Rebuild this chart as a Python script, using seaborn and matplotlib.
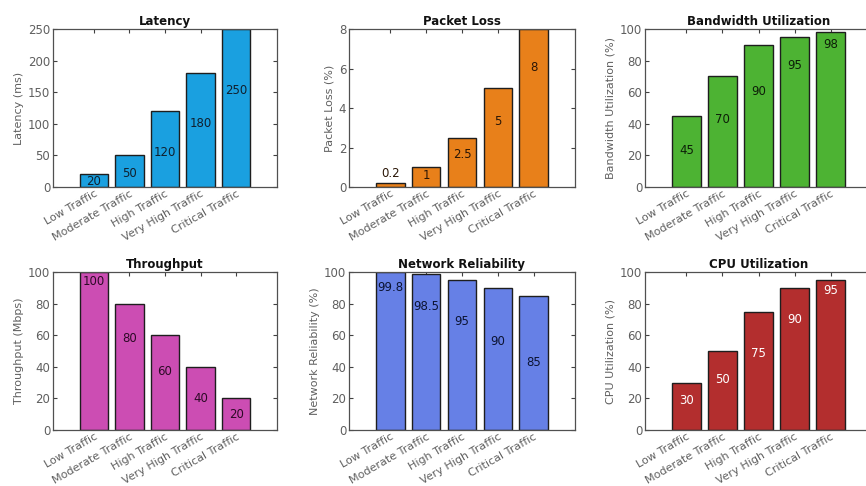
import matplotlib
matplotlib.use("Agg")
import matplotlib.pyplot as plt
import seaborn as sns
import pandas as pd

sns.set_theme(style="white")
plt.rcParams["font.family"] = ["DejaVu Sans"]

categories = ["Low Traffic", "Moderate Traffic", "High Traffic",
              "Very High Traffic", "Critical Traffic"]

latency = [20, 50, 120, 180, 250]
packet_loss = [0.2, 1, 2.5, 5, 8]
bandwidth = [45, 70, 90, 95, 98]
throughput = [100, 80, 60, 40, 20]
reliability = [99.8, 98.5, 95, 90, 85]
cpu = [30, 50, 75, 90, 95]

value_text = {
    "latency": ["20", "50", "120", "180", "250"],
    "packet_loss": ["0.2", "1", "2.5", "5", "8"],
    "bandwidth": ["45", "70", "90", "95", "98"],
    "throughput": ["100", "80", "60", "40", "20"],
    "reliability": ["99.8", "98.5", "95", "90", "85"],
    "cpu": ["30", "50", "75", "90", "95"],
}

# heights at which the value labels sit, in data units
label_y = {
    "latency": [8.4, 20.6, 55, 99.7, 152],
    "packet_loss": [0.66, 0.57, 1.63, 3.34, 6.04],
    "bandwidth": [23, 43, 60.6, 76.8, 90.3],
    "throughput": [93.7, 58, 37, 20, 9.7],
    "reliability": [90, 78.3, 68.4, 55.7, 43],
    "cpu": [18.8, 31.8, 48.3, 69.8, 88.2],
}

W, H = 866, 486
fig = plt.figure(figsize=(W / 100, H / 100), dpi=100)
fig.patch.set_facecolor("white")

panels = [
    # key, values, title, ylabel, ylim, yticks, colour, label colour, (left, top, width, height) in px
    ("latency", latency, "Latency", "Latency (ms)", 250, [0, 50, 100, 150, 200, 250],
     "#1AA0E0", "#10202e", (53, 29, 224, 158)),
    ("packet_loss", packet_loss, "Packet Loss", "Packet Loss (%)", 8, [0, 2, 4, 6, 8],
     "#E8801A", "#2a1606", (349, 29, 226, 158)),
    ("bandwidth", bandwidth, "Bandwidth Utilization", "Bandwidth Utilization (%)", 100,
     [0, 20, 40, 60, 80, 100], "#4DB333", "#0d1f08", (645, 29, 227, 158)),
    ("throughput", throughput, "Throughput", "Throughput (Mbps)", 100,
     [0, 20, 40, 60, 80, 100], "#CC4DB3", "#2c0a26", (53, 272, 224, 158)),
    ("reliability", reliability, "Network Reliability", "Network Reliability (%)", 100,
     [0, 20, 40, 60, 80, 100], "#6680E6", "#0c1433", (349, 272, 226, 158)),
    ("cpu", cpu, "CPU Utilization", "CPU Utilization (%)", 100,
     [0, 20, 40, 60, 80, 100], "#B32E2E", "#ffffff", (645, 272, 227, 158)),
]

for key, vals, title, ylabel, ymax, yticks, colour, lcol, (l, t, w, h) in panels:
    ax = fig.add_axes([l / W, 1 - (t + h) / H, w / W, h / H])
    df = pd.DataFrame({"Traffic": categories, "Value": vals})
    sns.barplot(data=df, x="Traffic", y="Value", ax=ax, color=colour,
                saturation=1, width=0.8, edgecolor="#1e1e1e", linewidth=1.0)
    ax.set_xlim(-1.15, 5.15)
    ax.set_ylim(0, ymax)
    ax.set_yticks(yticks)
    ax.set_yticklabels([str(v) for v in yticks])
    ax.set_xticks(range(len(categories)))
    ax.set_xticklabels(categories, rotation=30, ha="right",
                       rotation_mode="anchor", fontsize=8, color="#5f5f5f")
    ax.tick_params(axis="y", labelsize=8.5, labelcolor="#5f5f5f", pad=2)
    ax.tick_params(axis="x", pad=1)
    ax.tick_params(direction="in", length=3, width=0.8, color="#404040",
                   top=True, right=True, bottom=True, left=True)
    ax.set_xlabel("")
    ax.set_ylabel(ylabel, fontsize=8, color="#5f5f5f", labelpad=3)
    ax.set_title(title, fontsize=8.5, fontweight="bold", color="#111111", pad=3)
    for s in ax.spines.values():
        s.set_color("#505050")
        s.set_linewidth(0.9)
    for i, (txt, yy) in enumerate(zip(value_text[key], label_y[key])):
        ax.text(i, yy, txt, ha="center", va="center", fontsize=8.5, color=lcol)

fig.savefig("out.png", dpi=100, facecolor="white")
